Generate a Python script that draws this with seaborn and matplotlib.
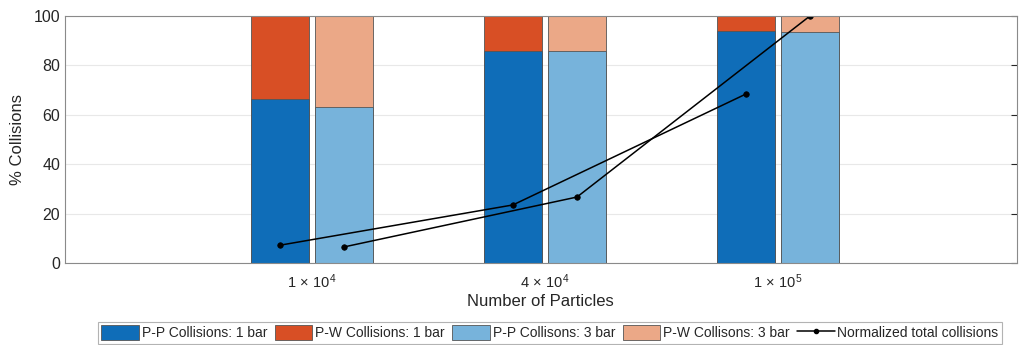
import numpy as np
import pandas as pd
import matplotlib
matplotlib.use("Agg")
import matplotlib.pyplot as plt
import seaborn as sns
from matplotlib.patches import Patch
from matplotlib.lines import Line2D

# ---- data ----
particles = [r"$1\,\times\,10^4$", r"$4\,\times\,10^4$", r"$1\,\times\,10^5$"]
pressures = ["1 bar", "3 bar"]
pp_1bar = [66.5, 86.0, 93.8]
pp_3bar = [63.3, 85.8, 93.5]
total_1bar = [100.0, 100.0, 100.0]
total_3bar = [100.0, 100.0, 100.0]
norm_1bar = [7.2, 23.5, 68.4]
norm_3bar = [6.5, 26.7, 100.0]
legend_labels = ["P-P Collisions: 1 bar", "P-W Collisions: 1 bar",
                 "P-P Collisons: 3 bar", "P-W Collisons: 3 bar",
                 "Normalized total collisions"]

c_blue = "#0F6DB8"
c_red = "#D84F25"
c_lblue = "#77B3DB"
c_lorange = "#EBA887"

df_tot = pd.DataFrame({
    "Particles": particles * 2,
    "Pressure": [pressures[0]] * 3 + [pressures[1]] * 3,
    "Value": total_1bar + total_3bar,
})
df_pp = pd.DataFrame({
    "Particles": particles * 2,
    "Pressure": [pressures[0]] * 3 + [pressures[1]] * 3,
    "Value": pp_1bar + pp_3bar,
})

sns.set_style("white")
plt.rcParams["font.family"] = ["Liberation Sans", "DejaVu Sans"]
plt.rcParams["mathtext.fontset"] = "custom"
plt.rcParams["mathtext.rm"] = "Liberation Sans"
plt.rcParams["mathtext.it"] = "Liberation Sans"

fig = plt.figure(figsize=(10.27, 3.45), dpi=100)
ax = fig.add_axes([0.0633, 0.2377, 0.9267, 0.716])

# top segments (full stacks)
sns.barplot(data=df_tot, x="Particles", y="Value", hue="Pressure",
            palette=[c_red, c_lorange], width=0.55, gap=0.1,
            edgecolor="#555555", linewidth=0.6, ax=ax, legend=False,
            errorbar=None, saturation=1)
# bottom segments
sns.barplot(data=df_pp, x="Particles", y="Value", hue="Pressure",
            palette=[c_blue, c_lblue], width=0.55, gap=0.1,
            edgecolor="#555555", linewidth=0.6, ax=ax, legend=False,
            errorbar=None, saturation=1)

# bar centres for the lines (from the drawn bars)
bars = [p for p in ax.patches if p.get_height() > 0][6:]
centers = sorted([p.get_x() + p.get_width() / 2 for p in bars])
x1 = [centers[0], centers[2], centers[4]]
x3 = [centers[1], centers[3], centers[5]]
for xs, ys in ((x1, norm_1bar), (x3, norm_3bar)):
    sns.lineplot(x=xs, y=ys, sort=False, color="black", marker="o",
                 markersize=4, markeredgecolor="black", markeredgewidth=0.5,
                 linewidth=1.1, ax=ax, legend=False)

ax.set_xlim(-1.06, 3.025)
ax.set_ylim(0, 100)
ax.set_yticks([0, 20, 40, 60, 80, 100])
ax.yaxis.grid(True, color="#e8e8e8", linewidth=0.8)
ax.set_axisbelow(True)
ax.tick_params(axis="both", direction="in", labelsize=11.5, colors="#262626",
               length=4)
ax.tick_params(axis="y", right=True, labelright=False)
ax.tick_params(axis="x", pad=7, length=0, labelsize=10.5)
for s in ax.spines.values():
    s.set_color("#8a8a8a")
    s.set_linewidth(0.8)
ax.set_xlabel("Number of Particles", fontsize=12, color="#262626", labelpad=2)
ax.set_ylabel("% Collisions", fontsize=12, color="#262626", labelpad=6)

handles = [Patch(facecolor=c_blue, edgecolor="#555555", linewidth=0.6),
           Patch(facecolor=c_red, edgecolor="#555555", linewidth=0.6),
           Patch(facecolor=c_lblue, edgecolor="#555555", linewidth=0.6),
           Patch(facecolor=c_lorange, edgecolor="#555555", linewidth=0.6),
           Line2D([], [], color="black", marker="o", markersize=3, linewidth=1.1)]
leg = fig.legend(handles, legend_labels, loc="upper center",
                 bbox_to_anchor=(0.5355, 0.068), ncol=5, fontsize=10,
                 handlelength=2.7, handleheight=1.3, handletextpad=0.2,
                 columnspacing=0.55, borderpad=0.25, frameon=True,
                 fancybox=False, edgecolor="#a0a0a0", borderaxespad=0)
leg.get_frame().set_linewidth(0.8)

fig.savefig("out.png", dpi=100)
